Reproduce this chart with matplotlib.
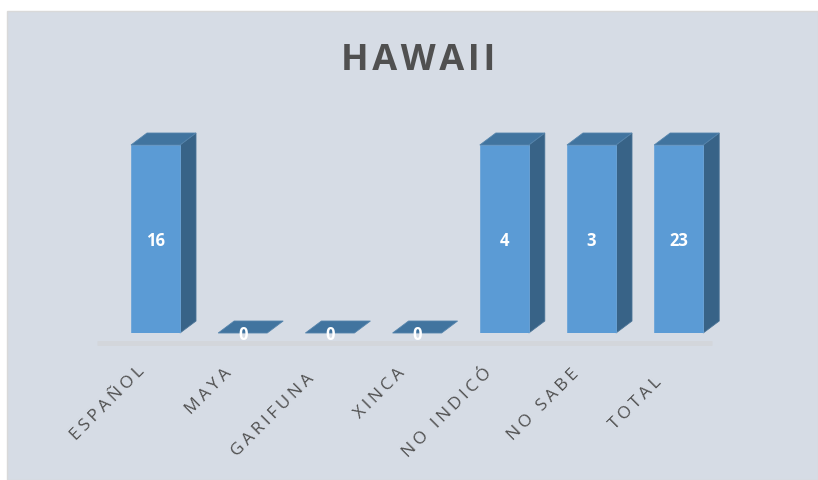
import matplotlib
matplotlib.use("Agg")
from matplotlib import pyplot as plt
from matplotlib.patches import Polygon, Rectangle
from matplotlib.transforms import ScaledTranslation

W, H = 818, 480

categories = ["ESPAÑOL", "MAYA", "GARIFUNA", "XINCA", "NO INDICÓ", "NO SABE", "TOTAL"]
values = [16, 0, 0, 0, 4, 3, 23]
# the source chart's value axis stops at 1, so every non zero bar hits the top
axis_max = 1

FRONT = "#5B9BD5"
SIDE = "#386387"
TOP = "#41749F"
TEXT = "#505050"
HAIR = "\u200a"


def spaced(s, n=1):
    return (HAIR * n).join(s)


plt.rcParams["font.family"] = ["Open Sans", "DejaVu Sans"]

fig = plt.figure(figsize=(W / 100, H / 100), dpi=100, facecolor="white")
fig.add_artist(Rectangle((7 / W, 0), (W - 7) / W, (H - 11) / H, transform=fig.transFigure,
                         facecolor="#D6DCE5", edgecolor="#D9D9D9", linewidth=1, zorder=-1))

# axes box in pixels: one category slot is 87.2 px wide
left, right, top, bottom = 111.9, 722.3, 145, 333
ax = fig.add_axes([left / W, 1 - bottom / H, (right - left) / W, (bottom - top) / H])
ax.set_xlim(-0.5, len(categories) - 0.5)
ax.set_ylim(0, axis_max)
ax.patch.set_alpha(0)
for s in ax.spines.values():
    s.set_visible(False)

slot = (right - left) / len(categories)
bar_w = 49 / slot
dx = 16 / slot
dy = 12 / (bottom - top)

# floor
ax.plot([-0.5 - 15 / slot, len(categories) - 0.5 - 10 / slot], [-10 / (bottom - top)] * 2,
        color="#D3D6DB", lw=3.5, solid_capstyle="butt", clip_on=False, zorder=1)

for i, v in enumerate(values):
    h = min(v, axis_max)
    x0, x1 = i - bar_w / 2, i + bar_w / 2
    if h > 0:
        ax.add_patch(Polygon([(x1, 0), (x1 + dx, dy), (x1 + dx, h + dy), (x1, h)], closed=True,
                             facecolor=SIDE, edgecolor="#4A7396", lw=0.6, clip_on=False, zorder=2))
        ax.bar(i, h, width=bar_w, color=FRONT, edgecolor="#6CA5D9", linewidth=0.6, zorder=3)
    ax.add_patch(Polygon([(x0, h), (x0 + dx, h + dy), (x1 + dx, h + dy), (x1, h)], closed=True,
                         facecolor=TOP, edgecolor="#5584AC", lw=0.6, clip_on=False, zorder=3))
    ax.annotate(str(v), (i, h / 2), xytext=(0, -2), textcoords="offset pixels",
                ha="center", va="center", color="white", fontsize=12, fontweight="bold",
                zorder=5, annotation_clip=False)

ax.set_yticks([])
ax.set_xticks(range(len(categories)))
ax.set_xticklabels([spaced(c, 2) for c in categories], rotation=45, ha="right", va="top",
                   rotation_mode="anchor", fontsize=12.5, color=TEXT)
ax.tick_params(axis="x", length=0, pad=22)
# each rotated label sits a little differently in the source, nudges in pixels
nudges = [(0, 0), (0, -2), (-5, -7), (-1, -2), (-2, -2), (-2, -3), (-6, -11)]
for lab, (nx, ny) in zip(ax.get_xticklabels(), nudges):
    shift = ScaledTranslation((nx - 19) / 100, ny / 100, fig.dpi_scale_trans)
    lab.set_transform(lab.get_transform() + shift)

fig.text(418 / W, 1 - 61 / H, spaced("HAWAII"), ha="center", va="center",
         fontsize=26, fontweight="bold", color=TEXT)

fig.savefig("out.png", dpi=100, facecolor="white")
